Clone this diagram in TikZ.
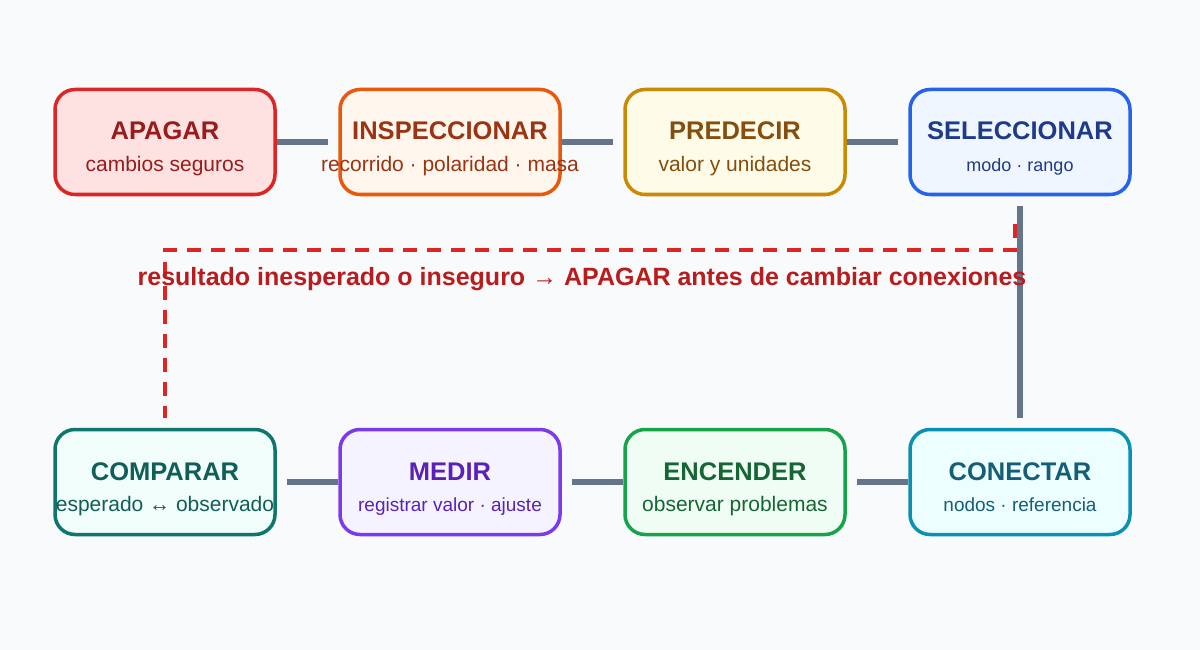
\documentclass[tikz,border=0pt]{standalone}
\usepackage{fontspec}
\setmainfont{Liberation Sans}
\usepackage{xcolor}

\definecolor{fondo}{HTML}{F8FAFC}
\definecolor{enlacec}{HTML}{64748B}
\definecolor{avisoc}{HTML}{DC2626}
\definecolor{avisot}{HTML}{B91C1C}
% borde / relleno / texto de cada paso
\definecolor{apB}{HTML}{DC2626}\definecolor{apF}{HTML}{FEE2E2}\definecolor{apT}{HTML}{991B1B}
\definecolor{inB}{HTML}{EA580C}\definecolor{inF}{HTML}{FFF7ED}\definecolor{inT}{HTML}{9A3412}
\definecolor{prB}{HTML}{CA8A04}\definecolor{prF}{HTML}{FEFCE8}\definecolor{prT}{HTML}{854D0E}
\definecolor{seB}{HTML}{2563EB}\definecolor{seF}{HTML}{EFF6FF}\definecolor{seT}{HTML}{1E3A8A}
\definecolor{coB}{HTML}{0891B2}\definecolor{coF}{HTML}{ECFEFF}\definecolor{coT}{HTML}{155E75}
\definecolor{enB}{HTML}{16A34A}\definecolor{enF}{HTML}{F0FDF4}\definecolor{enT}{HTML}{166534}
\definecolor{meB}{HTML}{7C3AED}\definecolor{meF}{HTML}{F5F3FF}\definecolor{meT}{HTML}{5B21B6}
\definecolor{cmB}{HTML}{0F766E}\definecolor{cmF}{HTML}{F0FDFA}\definecolor{cmT}{HTML}{115E59}

\begin{document}
\begin{tikzpicture}[x=1pt,y=-1pt,
		paso/.style={draw=#1B,fill=#1F,line width=3.5pt,rounded corners=20pt,minimum width=220pt,minimum height=105pt,inner sep=0pt},
		titulo/.style={text=#1T,font=\fontsize{25.5}{28}\selectfont\bfseries,anchor=base},
		enlace/.style={draw=enlacec,line width=5.5pt,shorten >=10pt}]
	\useasboundingbox (0,0) rectangle (1200,650);
	\fill[fondo] (0,0) rectangle (1200,650);
	
	\foreach \nom/\x/\y/\cl/\tit/\sub/\fs in {
		apagar/165/142/ap/APAGAR/cambios seguros/21,
		inspeccionar/450/142/in/INSPECCIONAR/recorrido · polaridad · masa/21,
		predecir/735/142/pr/PREDECIR/valor y unidades/21,
		seleccionar/1020/142/se/SELECCIONAR/modo · rango/18,
		conectar/1020/482/co/CONECTAR/nodos · referencia/19,
		encender/735/482/en/ENCENDER/observar problemas/21,
		medir/450/482/me/MEDIR/registrar valor · ajuste/19,
		comparar/165/482/cm/COMPARAR/esperado ↔ observado/21} {
		\node[paso=\cl] (\nom) at (\x,\y) {};
		\node[titulo=\cl] (\nom-t) at (\x,\y-2) {\tit};
		\node[text=\cl T,font=\fontsize{\fs}{\fs}\selectfont,anchor=base] (\nom-s) at (\x,\y+29.5) {\sub};
	}
	
	\draw[enlace] (apagar) -- (inspeccionar);
	\draw[enlace] (inspeccionar) -- (predecir);
	\draw[enlace] (predecir) -- (seleccionar);
	\draw[enlace,shorten <=10pt] (seleccionar) -- (conectar);
	\draw[enlace] (conectar) -- (encender);
	\draw[enlace] (encender) -- (medir);
	\draw[enlace] (medir) -- (comparar);
	
	% vuelta atras
	\coordinate (retorno) at (1015,224);
	\draw[avisoc,line width=4.5pt,dash pattern=on 14pt off 10pt,shorten >=10pt] (retorno) -- ++(0,26) -| (comparar.north);
	\node[text=avisot,font=\fontsize{25}{28}\selectfont\bfseries,anchor=base] (aviso) at (582,285) {resultado inesperado o inseguro → APAGAR antes de cambiar conexiones};
\end{tikzpicture}
\end{document}
